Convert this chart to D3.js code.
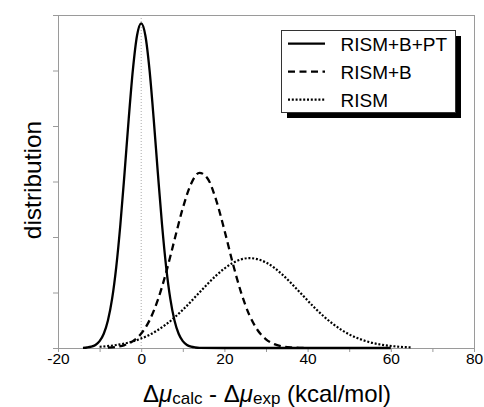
<!DOCTYPE html>
<html>
<head>
<meta charset="utf-8">
<script src="https://cdn.jsdelivr.net/npm/d3@7"></script>
<style>
  body { margin: 0; background: #fff; }
  text { font-family: "Liberation Sans", Arial, sans-serif; fill: #000; }
</style>
</head>
<body>
<script>
// values (distribution in tick units, 6 ticks high)
var ptX = [-14, -13, -12, -11, -10, -9, -8, -7, -6, -5, -4, -3, -2, -1, 0, 1, 2, 3, 4, 5, 6, 7, 8, 9, 10, 11, 12, 13, 14, 20, 40, 60];
var ptY = [0.003, 0.009, 0.023, 0.055, 0.124, 0.257, 0.495, 0.884, 1.459, 2.23, 3.156, 4.13, 5.01, 5.63, 5.85,
           5.63, 5.01, 4.13, 3.156, 2.23, 1.459, 0.884, 0.495, 0.257, 0.124, 0.055, 0.023, 0.009, 0.003, 0, 0, 0];

var bX = [-8, -6, -4, -2, 0, 2, 4, 6, 8, 10, 12, 14, 16, 18, 20, 22, 24, 26, 28, 30, 32, 34, 36, 38, 40];
var bY = [0.007, 0.021, 0.053, 0.123, 0.26, 0.498, 0.866, 1.363, 1.947, 2.52, 2.96, 3.157, 3.05, 2.67, 2.125,
          1.532, 1.002, 0.594, 0.32, 0.156, 0.069, 0.028, 0.01, 0.003, 0.001];

var rX = [-10, -6, -2, 2, 6, 10, 14, 18, 22, 26, 30, 34, 38, 42, 46, 50, 54, 58, 62, 65];
var rY = [0.022, 0.054, 0.119, 0.238, 0.426, 0.688, 0.999, 1.304, 1.532, 1.62, 1.541, 1.318, 1.014, 0.702,
          0.438, 0.245, 0.124, 0.056, 0.023, 0.011];

var seriesNames = ["RISM+B+PT", "RISM+B", "RISM"];
var xTicks = [-20, 0, 20, 40, 60, 80];
var xMinor = [-10, 10, 30, 50, 70];
var yTicks = [0, 1, 2, 3, 4, 5, 6];

var width = 484,
    height = 407,
    pLeft = 58,
    pRight = 474,
    pTop = 15,
    pBottom = 348;

var svg = d3.select("body").append("svg")
    .attr("width", width)
    .attr("height", height);

var x = d3.scaleLinear().domain([-20, 80]).range([pLeft, pRight]);
var y = d3.scaleLinear().domain([0, 6]).range([pBottom, pTop]);

// frame
svg.append("rect")
    .attr("x", pLeft + 0.5).attr("y", pTop + 0.5)
    .attr("width", pRight - pLeft).attr("height", pBottom - pTop)
    .attr("fill", "none").attr("stroke", "#9a9a9a").attr("stroke-width", 1);

// y ticks (no labels)
svg.append("g")
    .attr("transform", "translate(" + pLeft + ",0)")
    .call(d3.axisLeft(y).tickValues(yTicks).tickSize(5).tickFormat(""))
    .call(function(g) {
        g.select(".domain").remove();
        g.selectAll("line").attr("stroke", "#9a9a9a");
    });

// x ticks
svg.append("g")
    .attr("transform", "translate(0," + pBottom + ")")
    .call(d3.axisBottom(x).tickValues(xTicks.concat(xMinor)).tickSize(4)
        .tickFormat(function(d) { return xTicks.indexOf(d) >= 0 ? d : ""; }))
    .call(function(g) {
        g.select(".domain").remove();
        g.selectAll("line").attr("stroke", "#9a9a9a");
        g.selectAll("text")
            .attr("y", 15.5)
            .attr("dy", 0)
            .style("font-family", "'Liberation Sans', Arial, sans-serif")
            .style("font-size", "15.5px")
            .attr("fill", "#000");
    });

// zero reference line
svg.append("line")
    .attr("x1", x(0)).attr("x2", x(0))
    .attr("y1", pTop).attr("y2", pBottom)
    .attr("stroke", "#aaa").attr("stroke-width", 1)
    .attr("stroke-dasharray", "1,2");

var styles = [
    { dash: null, w: 2.3 },
    { dash: "7,4.5", w: 2.3 },
    { dash: "2,1.8", w: 2.2 }
];

var line = d3.line()
    .x(function(d) { return x(d[0]); })
    .y(function(d) { return y(d[1]); })
    .curve(d3.curveMonotoneX);

var data = [d3.zip(ptX, ptY), d3.zip(bX, bY), d3.zip(rX, rY)];

svg.selectAll("path.curve")
    .data(data)
    .enter().append("path")
    .attr("class", "curve")
    .attr("d", line)
    .attr("fill", "none")
    .attr("stroke", "#000")
    .attr("stroke-width", function(d, i) { return styles[i].w; })
    .attr("stroke-dasharray", function(d, i) { return styles[i].dash; });

// legend
var lg = svg.append("g");
lg.append("rect")
    .attr("x", 287).attr("y", 36)
    .attr("width", 174).attr("height", 82)
    .attr("fill", "#000");
lg.append("rect")
    .attr("x", 281.5).attr("y", 30.5)
    .attr("width", 174).attr("height", 82)
    .attr("fill", "#fff").attr("stroke", "#333").attr("stroke-width", 1);

var rows = lg.selectAll("g.row")
    .data(seriesNames)
    .enter().append("g")
    .attr("class", "row")
    .attr("transform", function(d, i) { return "translate(0," + (50.7 + i * 28) + ")"; });

rows.append("line")
    .attr("x1", 288).attr("x2", 325)
    .attr("y1", -7).attr("y2", -7)
    .attr("stroke", "#000")
    .attr("stroke-width", function(d, i) { return styles[i].w; })
    .attr("stroke-dasharray", function(d, i) { return styles[i].dash; });

rows.append("text")
    .attr("x", 340.5)
    .attr("y", 0)
    .style("font-size", "19px")
    .text(function(d) { return d; });

// axis titles
svg.append("text")
    .attr("transform", "translate(41,180) rotate(-90)")
    .attr("text-anchor", "middle")
    .style("font-size", "24.5px")
    .text("distribution");

var t = svg.append("text")
    .attr("x", 267)
    .attr("y", 401.5)
    .attr("text-anchor", "middle")
    .style("font-size", "24px");
t.append("tspan").text("Δ");
t.append("tspan").style("font-style", "italic").text("μ");
t.append("tspan").style("font-size", "17px").attr("dy", 2.5).text("calc");
t.append("tspan").attr("dy", -2.5).text(" - Δ");
t.append("tspan").style("font-style", "italic").text("μ");
t.append("tspan").style("font-size", "17px").attr("dy", 2.5).text("exp");
t.append("tspan").attr("dy", -2.5).text(" (kcal/mol)");
</script>
</body>
</html>
